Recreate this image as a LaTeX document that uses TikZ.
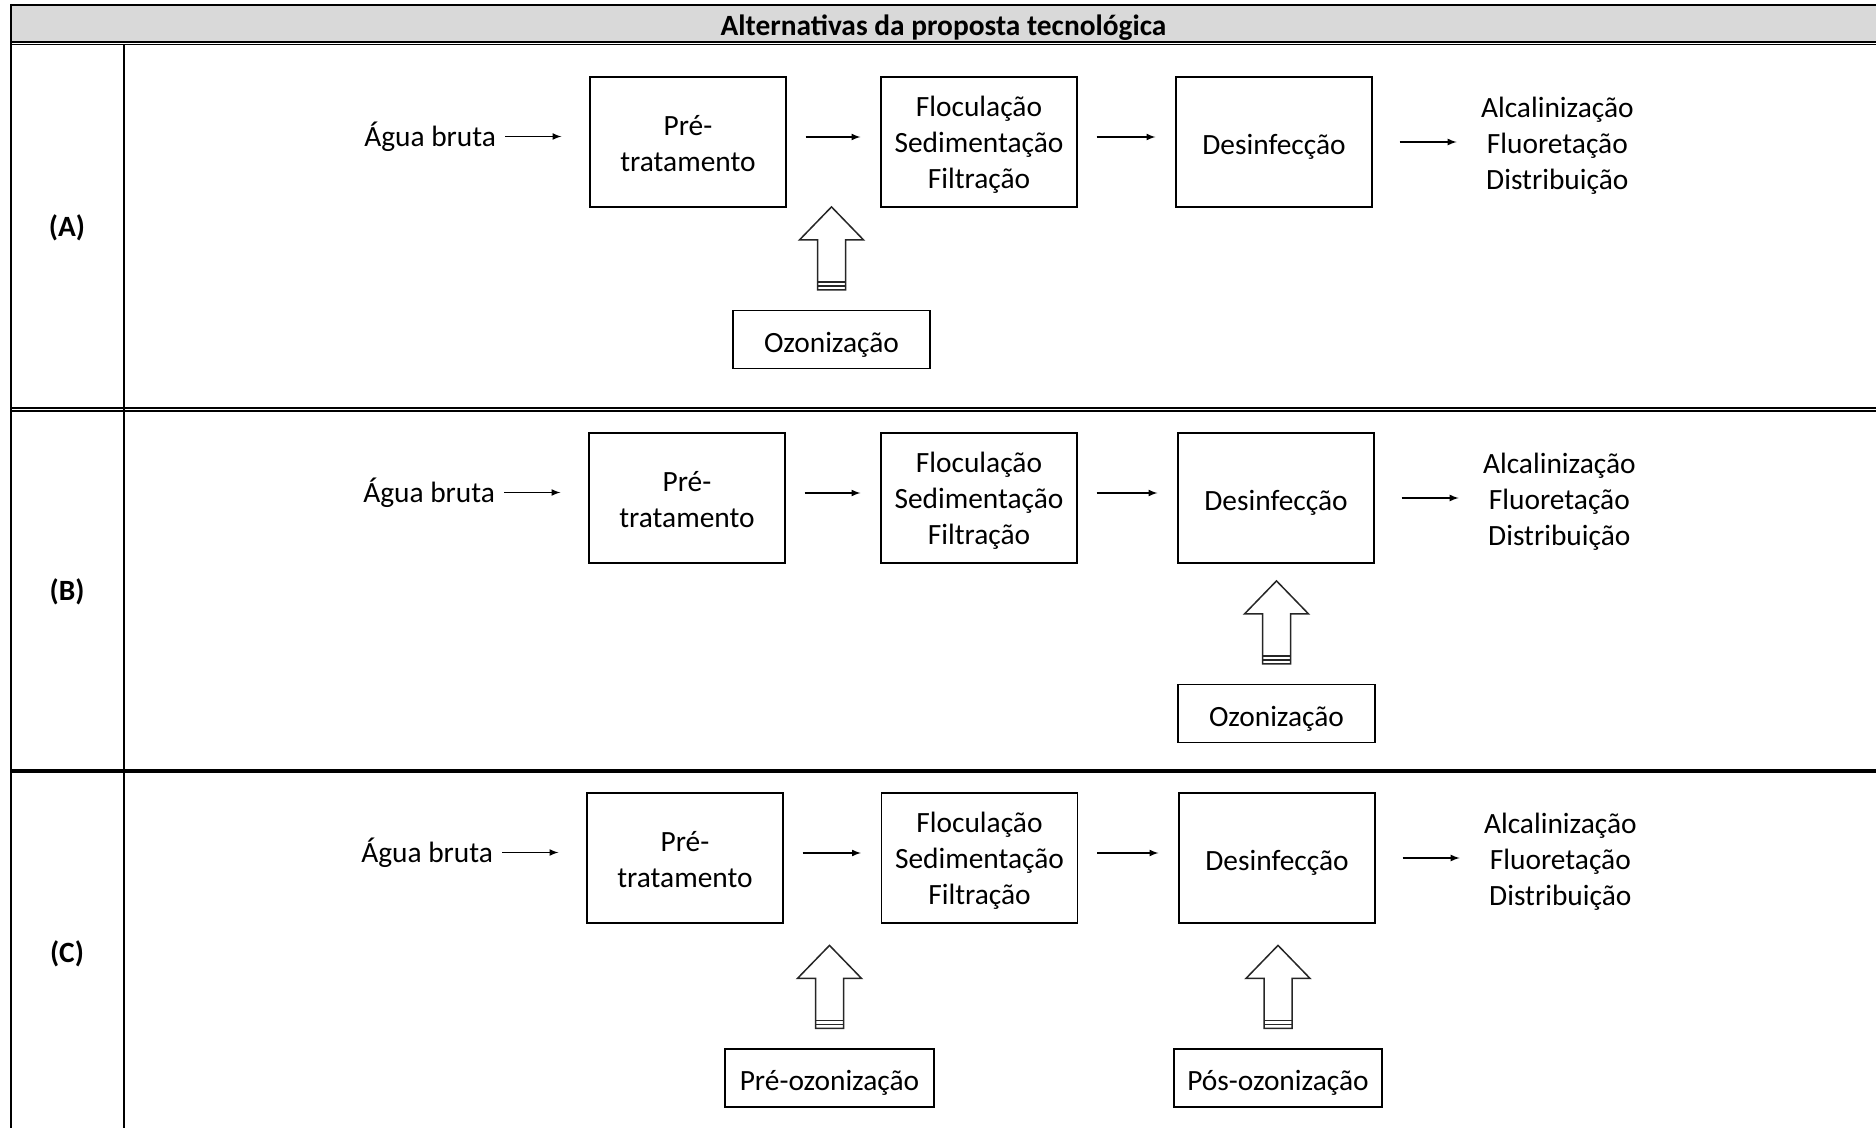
\documentclass[tikz,border=0pt]{standalone}
\usepackage{fontspec}
\setmainfont{Carlito}
\usepackage{tikz}
\usetikzlibrary{shapes,arrows,positioning,calc}
\definecolor{headgray}{HTML}{D9D9D9}

% taller first line, pushes the text down a little
\newcommand{\topgap}[1][13.3pt]{\rule{0pt}{#1}}

% hollow ozone arrow above a named box
\newcommand{\ozarrow}[1]{%
  \draw[hollowarrow] ($(#1.north)+(-14,-20)$) -- ++(0,-50) -- ++(-18,0) -- ++(32,-33) -- ++(32,33) -- ++(-18,0) -- ++(0,50) -- cycle;
  \draw[hollowarrow] ($(#1.north)+(-14,-24)$) -- ++(28,0);
  \draw[hollowarrow] ($(#1.north)+(-14,-28)$) -- ++(28,0);
}

\begin{document}
\begin{tikzpicture}
             %% setup
             [
                 x=0.5pt, y=-0.5pt,
                 font=\fontsize{14.7}{18}\selectfont,
                 dropped/.style={execute at begin node={\rule{0pt}{15pt}}},
                 procbox/.style={rectangle, draw, line width=0.6pt, minimum width=98pt, minimum height=65pt, align=center, inner sep=0pt, dropped},
                 ozbox/.style={rectangle, draw, line width=0.6pt, minimum width=98.5pt, minimum height=29pt, inner sep=0pt, dropped},
                 plaintext/.style={inner sep=0pt, align=center},
                 rowlabel/.style={font=\fontsize{14.7}{18}\selectfont\bfseries},
                 flow/.style={-latex, line width=0.55pt, shorten <=9.5pt, shorten >=10pt, transform canvas={yshift=2.5pt}},
                 lastflow/.style={-latex, line width=0.55pt, shorten <=13.5pt, shorten >=12pt},
                 hollowarrow/.style={line width=0.75pt, draw=black!85},
             ]
                 \useasboundingbox (0,0) rectangle (1876,1128);

                 %% Table
                 \fill[headgray] (11,5) rectangle (1876,41);
                 \draw[line width=1pt] (11,5) -- (1876,5);
                 \draw[line width=0.85pt] (11,41.8) -- (1876,41.8);
                 \draw[line width=0.85pt] (11,44.5) -- (1876,44.5);
                 \draw[line width=1pt] (11,4) -- (11,1128);
                 \draw[line width=1pt] (124,45) -- (124,1128);
                 \draw[line width=1.15pt] (11,408.2) -- (1876,408.2);
                 \draw[line width=0.85pt] (11,411.2) -- (1876,411.2);
                 \draw[line width=1.75pt] (11,771) -- (1876,771);

                 \node [rowlabel, dropped] (title) at (943.5,23) {Alternativas da proposta tecnológica};
                 \node [rowlabel] (labelA) at (67,228) {(A)};
                 \node [rowlabel] (labelB) at (67,592) {(B)};
                 \node [rowlabel] (labelC) at (67,954) {(C)};

                 %% Nodes (A)
                 \node [procbox] (preA) at (688,142) {\topgap[12.1pt]Pré-\\tratamento};
                 \node [procbox] (flocA) at (979,142) {\topgap Floculação\\Sedimentação\\Filtração};
                 \node [procbox] (desA) at (1274,142) {Desinfecção};
                 \node [plaintext, yshift=2.75pt] (aguaA) [left=46.5pt of preA] {Água bruta};
                 \node [plaintext, yshift=-2pt] (fimA) [right=54pt of desA] {Alcalinização\\Fluoretação\\Distribuição};
                 \node [ozbox] (ozA) at (831.5,339.5) {Ozonização};

                 %% Nodes (B)
                 \node [procbox] (preB) at (687,498) {\topgap[12.1pt]Pré-\\tratamento};
                 \node [procbox] (flocB) at (979,498) {\topgap Floculação\\Sedimentação\\Filtração};
                 \node [procbox] (desB) at (1276,498) {Desinfecção};
                 \node [plaintext, yshift=2.75pt] (aguaB) [left=46.5pt of preB] {Água bruta};
                 \node [plaintext, yshift=-2pt] (fimB) [right=54pt of desB] {Alcalinização\\Fluoretação\\Distribuição};
                 \node [ozbox] (ozB) at (1276.5,713.5) {Ozonização};

                 %% Nodes (C)
                 \node [procbox] (preC) at (685,858) {\topgap[12.1pt]Pré-\\tratamento};
                 \node [procbox] (flocC) at (979.5,858) {\topgap Floculação\\Sedimentação\\Filtração};
                 \node [procbox] (desC) at (1277,858) {Desinfecção};
                 \node [plaintext, yshift=2.75pt] (aguaC) [left=46.5pt of preC] {Água bruta};
                 \node [plaintext, yshift=-2pt] (fimC) [right=54pt of desC] {Alcalinização\\Fluoretação\\Distribuição};
                 \node [ozbox, minimum width=104.5pt] (ozC1) at (829.5,1078) {Pré-ozonização};
                 \node [ozbox, minimum width=104pt] (ozC2) at (1278,1078) {Pós-ozonização};

                 %% Lines
                 \draw[-latex, line width=0.55pt, shorten <=4.5pt, shorten >=14pt] (aguaA.east) -- (aguaA.east -| preA.west);
                 \draw[flow] (preA.east) -- (flocA.west);
                 \draw[flow] (flocA.east) -- (desA.west);
                 \draw[lastflow] (desA.east) -- (desA.east -| fimA.west);

                 \draw[-latex, line width=0.55pt, shorten <=4.5pt, shorten >=14pt] (aguaB.east) -- (aguaB.east -| preB.west);
                 \draw[flow] (preB.east) -- (flocB.west);
                 \draw[flow] (flocB.east) -- (desB.west);
                 \draw[lastflow] (desB.east) -- (desB.east -| fimB.west);

                 \draw[-latex, line width=0.55pt, shorten <=4.5pt, shorten >=14pt] (aguaC.east) -- (aguaC.east -| preC.west);
                 \draw[flow] (preC.east) -- (flocC.west);
                 \draw[flow] (flocC.east) -- (desC.west);
                 \draw[lastflow] (desC.east) -- (desC.east -| fimC.west);

                 \ozarrow{ozA}
                 \ozarrow{ozB}
                 \ozarrow{ozC1}
                 \ozarrow{ozC2}

\end{tikzpicture}
\end{document}
